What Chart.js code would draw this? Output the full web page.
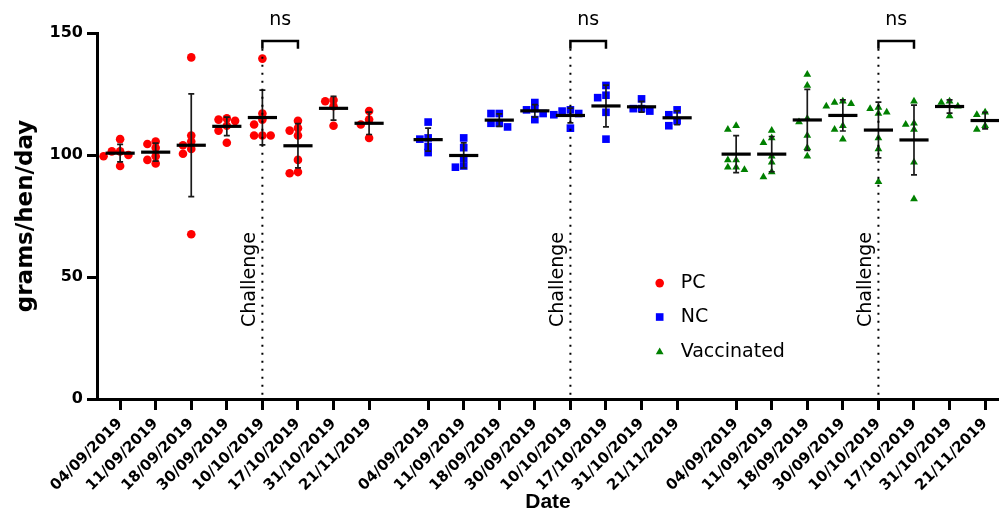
<!DOCTYPE html>
<html><head><meta charset="utf-8">
<script src="https://cdn.jsdelivr.net/npm/chart.js@4.4.1/dist/chart.umd.min.js"></script>
<style>html,body{margin:0;padding:0;background:#fff;}canvas{display:block;}</style>
</head><body>
<div style="width:999px;height:515px;"><canvas id="c" width="999" height="515"></canvas></div>
<script>
// ---------- data ----------
const dates = ['04/09/2019','11/09/2019','18/09/2019','30/09/2019','10/10/2019','17/10/2019','31/10/2019','21/11/2019'];
const groupNames = ['PC','NC','Vaccinated'];
const pcValues = [
  [106.5,101.5,101.5,100,99.5,95.5],
  [105.5,104.5,103,99.5,98,96.5],
  [140,108,105.5,104,102.5,100.5,67.5],
  [115,114.5,114,112,110,105],
  [139.5,117,114.5,112.5,108,108,108],
  [114,111,110,108,98,92.5,93],
  [122,122.5,120,112],
  [118,114.5,112.5,107]
];
const ncValues = [
  [113.5,106.5,107,103.5,101],
  [107,103,98.5,95,95.5],
  [117,117,113,113,111.5],
  [121.5,118.5,119,117,114.5],
  [118,118.5,117,116.5,111],
  [128.5,123.5,124.5,117.5,106.5],
  [123,119,119,118],
  [118.5,116.5,114,112]
];
const vaccinatedValues = [
  [110.5,112,98,98,95,95,94],
  [110,107,105,99.5,97,93,91],
  [133,128.5,113.5,115,108,103,99.5],
  [121.5,122,120,121,110.5,112,106.5],
  [119,119.5,117.5,117,107,102.5,89],
  [122,113,112.5,110.5,97,82],
  [122,121.5,120,116],
  [116.5,117.5,110.5,112]
];
const yTickValues = [0,50,100,150];
const challengeText = 'Challenge';
const challengeDateIndex = 4;   // 10/10/2019
const comparedDateIndex = 5;    // 17/10/2019
const nsText = 'ns';
const xTitle = 'Date';
const yTitle = 'grams/hen/day';

// ---------- layout helpers ----------
const GROUP_GAP = 8.66;
const PX_PER_X = 35.57, PX_PER_Y = 2.44;
const JITTER = 0.233, MIN_DIST = 5.5;
function pos(g, i){ return g * GROUP_GAP + i; }
function swarm(vals){
  const placed = [], res = new Array(vals.length);
  const order = vals.map((v,i)=>i).sort((a,b)=>vals[b]-vals[a]);
  for (const i of order){
    const v = vals[i];
    res[i] = 0;
    for (const k of [0,-1,1,-2,2]){
      const dx = k * JITTER;
      const ok = placed.every(p => Math.hypot((p.dx-dx)*PX_PER_X, (p.v-v)*PX_PER_Y) >= MIN_DIST);
      if (ok){ res[i] = dx; break; }
    }
    placed.push({v, dx: res[i]});
  }
  return res;
}
const mean = a => a.reduce((s,v)=>s+v,0)/a.length;
const sd = a => { const m = mean(a); return Math.sqrt(a.reduce((s,v)=>s+(v-m)*(v-m),0)/(a.length-1)); };

const seriesValues = [pcValues, ncValues, vaccinatedValues];
const styles = [
  {color:'#FF0000', pointStyle:'circle', radius:4.3},
  {color:'#0000FF', pointStyle:'rect', radius:5.4},
  {color:'#008000', pointStyle:'triangle', radius:4.5}
];
const datasets = seriesValues.map((sv, g) => {
  const data = [];
  sv.forEach((vals, i) => {
    const off = swarm(vals);
    vals.forEach((v, k) => data.push({x: pos(g,i) + off[k], y: v}));
  });
  return {
    label: groupNames[g], data,
    pointStyle: styles[g].pointStyle, pointRadius: styles[g].radius, pointHoverRadius: styles[g].radius,
    backgroundColor: styles[g].color, borderColor: styles[g].color, borderWidth: 0, showLine: false
  };
});
const tickPositions = [], tickLabels = [];
for (let g = 0; g < 3; g++) dates.forEach((d,i)=>{ tickPositions.push(pos(g,i)); tickLabels.push(d); });

function drawMarker(ctx, style, x, y, r){
  ctx.fillStyle = style.color;
  ctx.beginPath();
  if (style.pointStyle === 'circle') ctx.arc(x, y, r, 0, Math.PI*2);
  else if (style.pointStyle === 'rect'){ const s = r*Math.SQRT1_2; ctx.rect(x-s, y-s, 2*s, 2*s); }
  else { ctx.moveTo(x, y-r); ctx.lineTo(x + r*Math.sin(2*Math.PI/3), y - r*Math.cos(2*Math.PI/3)); ctx.lineTo(x + r*Math.sin(4*Math.PI/3), y - r*Math.cos(4*Math.PI/3)); ctx.closePath(); }
  ctx.fill();
}

const extras = {
  id: 'extras',
  afterDatasetsDraw(chart){
    const {ctx, scales:{x, y}} = chart;
    ctx.save();
    // mean + SD
    seriesValues.forEach((sv, g) => sv.forEach((vals, i) => {
      const m = mean(vals), s = sd(vals);
      const cx = x.getPixelForValue(pos(g,i));
      const yt = y.getPixelForValue(m + s), yb = y.getPixelForValue(m - s), ym = y.getPixelForValue(m);
      ctx.strokeStyle = '#1a1a1a'; ctx.lineWidth = 1.7;
      ctx.beginPath();
      ctx.moveTo(cx, yt); ctx.lineTo(cx, yb);
      ctx.moveTo(cx-3, yt); ctx.lineTo(cx+3, yt);
      ctx.moveTo(cx-3, yb); ctx.lineTo(cx+3, yb);
      ctx.stroke();
      ctx.strokeStyle = '#000'; ctx.lineWidth = 3.2;
      const hw = x.getPixelForValue(pos(g,i)+0.41) - cx;
      ctx.beginPath(); ctx.moveTo(cx-hw, ym); ctx.lineTo(cx+hw, ym); ctx.stroke();
    }));
    // challenge lines, text, ns brackets
    for (let g = 0; g < 3; g++){
      const lx = x.getPixelForValue(pos(g, challengeDateIndex));
      const rx = x.getPixelForValue(pos(g, comparedDateIndex));
      ctx.strokeStyle = '#000'; ctx.lineWidth = 2; ctx.setLineDash([2,6]);
      ctx.beginPath(); ctx.moveTo(lx, y.getPixelForValue(143.5)); ctx.lineTo(lx, y.getPixelForValue(0)); ctx.stroke();
      ctx.setLineDash([]);
      ctx.lineWidth = 2.5;
      const bt = y.getPixelForValue(146.7), bb = y.getPixelForValue(143.5);
      ctx.beginPath(); ctx.moveTo(lx, bb); ctx.lineTo(lx, bt); ctx.lineTo(rx, bt); ctx.lineTo(rx, bb); ctx.stroke();
      ctx.fillStyle = '#000'; ctx.font = '19px "DejaVu Sans"'; ctx.textAlign = 'center'; ctx.textBaseline = 'middle';
      ctx.fillText(nsText, (lx+rx)/2, y.getPixelForValue(155.5));
      ctx.save();
      ctx.translate(lx - 3, y.getPixelForValue(49));
      ctx.rotate(-Math.PI/2);
      ctx.textAlign = 'center'; ctx.textBaseline = 'bottom';
      ctx.fillText(challengeText, 0, 0);
      ctx.restore();
    }
    // legend
    const legX = x.getPixelForValue(15.17);
    const legY = [47.5, 33.6, 19.3];
    groupNames.forEach((name, g) => {
      const py = y.getPixelForValue(legY[g]);
      drawMarker(ctx, styles[g], legX, py, styles[g].radius);
      ctx.fillStyle = '#000'; ctx.font = '19px "DejaVu Sans"'; ctx.textAlign = 'left'; ctx.textBaseline = 'middle';
      ctx.fillText(name, legX + 21, py);
    });
    ctx.restore();
  }
};

new Chart(document.getElementById('c'), {
  type: 'scatter',
  data: { datasets },
  options: {
    responsive: false, animation: false, devicePixelRatio: 1,
    layout: { autoPadding: false, padding: { top: 33, left: 0, right: 0, bottom: 0 } },
    plugins: { legend: { display: false }, tooltip: { enabled: false } },
    scales: {
      x: {
        type: 'linear', min: -0.65, max: 24.71,
        afterBuildTicks: s => { s.ticks = tickPositions.map(v => ({value: v})); },
        afterFit: s => { s.height = 116; s.paddingLeft = 0; s.paddingRight = 0; },
        ticks: { autoSkip: false, minRotation: 45, maxRotation: 45, color: '#000', padding: 5,
          font: { family: 'DejaVu Sans', weight: 'bold', size: 15 },
          callback: (v, i) => tickLabels[i] },
        grid: { drawOnChartArea: false, drawTicks: true, tickLength: 11, tickWidth: 3, tickColor: '#000' },
        border: { display: true, width: 3, color: '#000' },
        title: { display: true, text: xTitle, color: '#000', font: { family: 'Liberation Sans', weight: 'bold', size: 21 }, padding: { top: 0, bottom: 0 } }
      },
      y: {
        min: 0, max: 150,
        afterBuildTicks: s => { s.ticks = yTickValues.map(v => ({value: v})); },
        afterFit: s => { s.width = 97; s.paddingTop = 0; s.paddingBottom = 0; },
        ticks: { color: '#000', padding: 4, font: { family: 'DejaVu Sans', weight: 'bold', size: 16 } },
        grid: { drawOnChartArea: false, drawTicks: true, tickLength: 10, tickWidth: 3, tickColor: '#000' },
        border: { display: true, width: 3, color: '#000' },
        title: { display: true, text: yTitle, color: '#000', font: { family: 'DejaVu Sans', weight: 'bold', size: 23 }, padding: { top: 12, bottom: 0 } }
      }
    }
  },
  plugins: [extras]
});
</script>
</body></html>
